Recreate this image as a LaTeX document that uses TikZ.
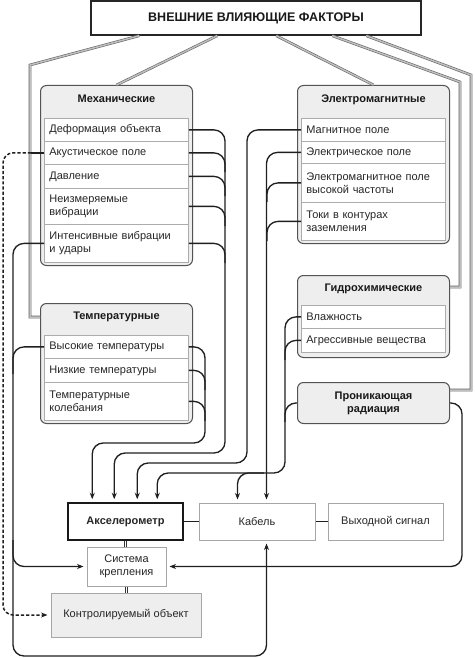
\documentclass[tikz,border=0pt]{standalone}
\usepackage{fontspec}
\setmainfont{Liberation Sans}
\usetikzlibrary{arrows.meta,calc}
\newcommand\myitemfont{\fontsize{11}{12.7}\selectfont}
\newcommand\myttlfont{\bfseries\fontsize{11}{13}\selectfont}
\begin{document}
\begin{tikzpicture}[x=1pt,y=-1pt,
  conn/.style={draw=black!88, line width=1.35pt, rounded corners=11pt},
  arr/.style={-{Stealth[length=6.5pt,width=5pt]}, shorten >=3pt},
  dashc/.style={draw=black!88, line width=1.5pt, dash pattern=on 3.2pt off 2pt, rounded corners=10pt},
  dline/.style={draw=gray!80!black, double=gray!50, double distance=1.5pt, line width=0.6pt},
  dbl/.style={draw=black!80, double=white, double distance=1.5pt, line width=0.7pt},
  grp/.style={draw=gray!65!black, fill=gray!13, line width=1pt, rounded corners=6pt, anchor=north west, minimum width=152pt, inner sep=0pt},
  item/.style={draw=gray!65, fill=white, line width=0.8pt, anchor=north west, minimum width=144pt, text width=134pt, inner xsep=5pt, inner ysep=0pt, align=left, font=\myitemfont, text=black!85},
  ttl/.style={font=\myttlfont, text=black!90, align=center},
  blk/.style={draw=gray!70, line width=1pt, fill=white, minimum height=37pt, inner sep=0pt, font=\myitemfont, text=black!85, align=center},
  topbox/.style={draw=black!85, line width=1.5pt, fill=white, minimum width=330pt, minimum height=34pt, inner sep=0pt, font=\bfseries\fontsize{12.5}{14}\selectfont, text=black!90},
]
\useasboundingbox (0,0) rectangle (474,658);

% top box
\node[topbox] (top) at (256,18) {ВНЕШНИЕ ВЛИЯЮЩИЕ ФАКТОРЫ};

% group boxes
\node[grp, minimum height=180pt] (mech) at (40,85) {};
\node[grp, minimum height=158pt] (em) at (297,85) {};
\node[grp, minimum height=120pt] (temp) at (40,303) {};
\node[grp, minimum height=82pt] (hyd) at (297,275) {};
\node[grp, minimum height=41pt] (rad) at (297,382) {};

% gray double connectors from top
\draw[dline] ($(top.south west)+(49,0)$) -- (30,65) |- ($(temp.north west)+(0,14)$);
\draw[dline] ($(top.south west)+(127,0)$) -- (mech.north);
\draw[dline] ($(top.south west)+(186,0)$) -- (em.north);
\draw[dline] ($(top.south west)+(242,0)$) -- (460,82) |- ($(hyd.north east)+(0,12)$);
\draw[dline] ($(top.south west)+(276,0)$) -- (471,75) |- ($(rad.north east)+(0,8)$);

% titles
\node[ttl] at ($(mech.north)+(0,14)$) {Механические};
\node[ttl] at ($(em.north)+(0,15)$) {Электромагнитные};
\node[ttl] at ($(temp.north)+(0,14)$) {Температурные};
\node[ttl] at ($(hyd.north)+(0,14)$) {Гидрохимические};
\node[ttl] (radt) at (rad.center) {Проникающая\\радиация};

% items
\node[item, minimum height=23pt] (m1) at (44,118) {Деформация объекта};
\node[item, minimum height=23pt] (m2) at (44,141) {Акустическое поле};
\node[item, minimum height=24pt] (m3) at (44,164) {Давление};
\node[item, minimum height=36pt] (m4) at (44,188) {Неизмеряемые\\вибрации};
\node[item, minimum height=38pt] (m5) at (44,224) {Интенсивные вибрации\\и удары};

\node[item, minimum height=23pt] (e1) at (301,118) {Магнитное поле};
\node[item, minimum height=22pt] (e2) at (301,141) {Электрическое поле};
\node[item, minimum height=39pt] (e3) at (301,163) {Электромагнитное поле\\высокой частоты};
\node[item, minimum height=38pt] (e4) at (301,202) {Токи в контурах\\заземления};

\node[item, minimum height=23pt] (t1) at (44,335) {Высокие температуры};
\node[item, minimum height=24pt] (t2) at (44,358) {Низкие температуры};
\node[item, minimum height=38pt] (t3) at (44,382) {Температурные\\колебания};

\node[item, minimum height=23pt] (h1) at (301,305) {Влажность};
\node[item, minimum height=24pt] (h2) at (301,328) {Агрессивные вещества};

% bottom blocks
\node[blk, draw=black!90, line width=1.5pt, minimum width=115pt, font=\bfseries\myitemfont] (acc) at (125.5,521.5) {Акселерометр};
\node[blk, minimum width=116pt] (cab) at (257,521.5) {Кабель};
\node[blk, minimum width=115pt] (out) at (385.5,521.5) {Выходной сигнал};
\node[blk, minimum width=79pt, minimum height=39pt] (sys) at (126.5,566.5) {Система\\крепления};
\node[blk, minimum width=150pt, minimum height=44pt, fill=gray!13] (obj) at (126,615) {Контролируемый объект};

\draw[conn] (acc.east) -- (cab.west);
\draw[conn] (cab.east) -- (out.west);
\draw[dbl] (acc.south) -- (acc.south |- sys.north);
\draw[dbl] (sys.south) -- (sys.south |- obj.north);

% mechanical bus x=225
\draw[conn,arr] (m1.east) -| (225,453) -| ($(acc.north west)+(47,0)$);
\draw[conn] (m2.east) -| (225,172);
\draw[conn] (m3.east) -| (225,196);
\draw[conn] (m4.east) -| (225,226);
\draw[conn] (m5.east) -| (225,263);

% temperature bus x=205
\draw[conn,arr] (t1.east) -| (205,443) -| ($(acc.north west)+(25,0)$);
\draw[conn] (t2.east) -| (205,390);
\draw[conn] (t3.east) -| (205,421);

% magnetic bus x=247
\draw[conn,arr] (e1.west) -| (247,463) -| ($(acc.north west)+(70,0)$);

% electric bus x=267
\draw[conn,arr] (e2.west) -| ($(cab.north west)+(68,0)$);
\draw[conn] (e3.west) -| (267,202);
\draw[conn] (e4.west) -| (267,241);

% hydro + radiation bus x=285
\draw[conn,arr] (h1.west) -| (285,473) -| ($(acc.north west)+(90,0)$);
\draw[conn] (h2.west) -| (285,360);
\draw[conn] (rad.west) -| (285,422);
\coordinate (hbr) at (264,473);
\draw[conn,arr] (hbr) -| ($(cab.north west)+(39,0)$);

% left bus x=13
\draw[conn,arr] (m5.west) -| (13,656) -| ($(cab.south west)+(68,0)$);
\draw[conn] (t1.west) -| (13,374);
\coordinate (lbr) at (13,540);
\draw[conn,arr] (lbr) |- (sys.west);

% radiation right
\draw[conn,arr] (rad.east) -| (462,500) |- (sys.east);

% dashed from acoustic field
\coordinate (ac1) at ($(m2.west)+(-13,0)$);
\draw[conn] (m2.west) -- (ac1);
\draw[dashc,arr] (ac1) -| (3,500) |- (obj.west);
\end{tikzpicture}
\end{document}
